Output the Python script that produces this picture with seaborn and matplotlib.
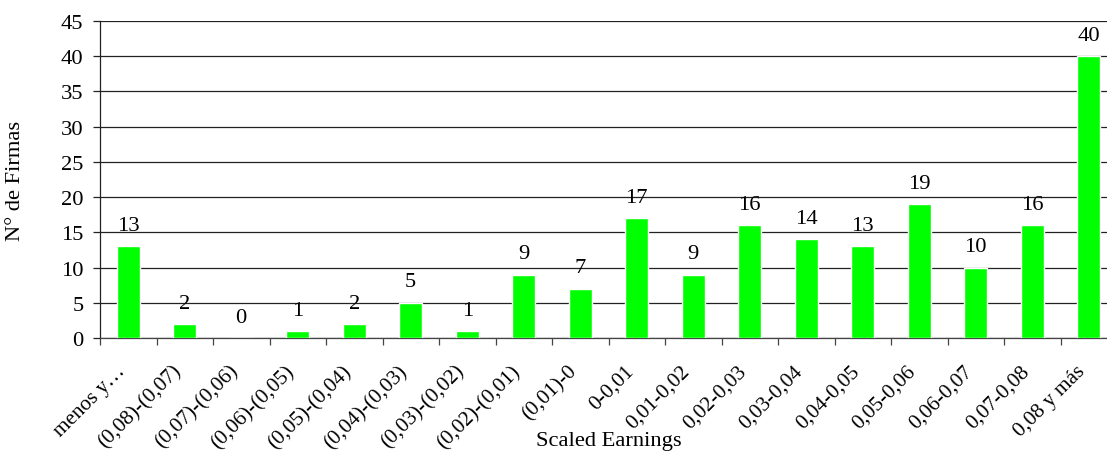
import matplotlib
matplotlib.use("Agg")
import matplotlib.pyplot as plt
import matplotlib.transforms as mtransforms
import seaborn as sns
import pandas as pd
import numpy as np

categories = [
    "menos y…", "(0,08)-(0,07)", "(0,07)-(0,06)", "(0,06)-(0,05)", "(0,05)-(0,04)",
    "(0,04)-(0,03)", "(0,03)-(0,02)", "(0,02)-(0,01)", "(0,01)-0", "0-0,01",
    "0,01-0,02", "0,02-0,03", "0,03-0,04", "0,04-0,05", "0,05-0,06",
    "0,06-0,07", "0,07-0,08", "0,08 y más",
]
firmas = [13, 2, 0, 1, 2, 5, 1, 9, 7, 17, 9, 16, 14, 13, 19, 10, 16, 40]
y_ticks = [0, 5, 10, 15, 20, 25, 30, 35, 40, 45]

sns.set_theme(style="white")
plt.rcParams["font.family"] = ["Liberation Serif", "DejaVu Serif"]

df = pd.DataFrame({"cat": categories, "n": firmas})

FS = 16.2
FS_X = 15.2
W, H = 1107, 452
fig = plt.figure(figsize=(W / 100, H / 100), dpi=100)
# plot area runs past the right edge of the canvas
ax = fig.add_axes([100 / W, (H - 339) / H, 1017 / W, 317 / H])

sns.barplot(data=df, x="cat", y="n", color="#00FF00", width=0.4,
            saturation=1, ax=ax, zorder=3)
ax.set_xlim(-0.5, len(categories) - 0.5)
ax.set_ylim(0, 45)
ax.set_yticks(y_ticks)

# horizontal grid
ax.yaxis.grid(True, color="#222222", linewidth=0.9, zorder=0)
ax.set_axisbelow(True)

for s in ["top", "right"]:
    ax.spines[s].set_visible(False)
ax.spines["left"].set_color("#222222")
ax.spines["bottom"].set_color("#444444")
ax.spines["left"].set_linewidth(0.9)
ax.spines["bottom"].set_linewidth(0.9)

# category boundaries carry the tick marks, centres carry the labels
ax.set_xticks(np.arange(-0.5, len(categories), 1.0), minor=True)
ax.tick_params(axis="x", which="minor", length=5, width=0.9, color="#444444",
               direction="out", bottom=True)
ax.tick_params(axis="x", which="major", length=0, pad=13)
ax.tick_params(axis="y", length=5, width=0.9, color="#222222", direction="out",
               left=True, pad=7, labelsize=FS)
ax.set_xticks(range(len(categories)))
ax.set_xticklabels(categories, rotation=45, ha="right", va="center",
                   rotation_mode="anchor", fontsize=FS_X)
shift = mtransforms.ScaledTranslation(-6 / 100, -12 / 100, fig.dpi_scale_trans)
for lbl in ax.get_xticklabels():
    lbl.set_color("black")
    lbl.set_transform(lbl.get_transform() + shift)
for lbl in ax.get_yticklabels():
    lbl.set_color("black")

# value labels
for i, v in enumerate(firmas):
    ax.annotate(str(v), xy=(i, v), xytext=(0, 15), textcoords="offset points",
                ha="center", va="center", fontsize=FS, color="black")

ax.set_xlabel("Scaled Earnings", fontsize=FS, color="black", va="center")
ax.xaxis.set_label_coords(0.5, -(442 - 339) / 317)
ax.set_ylabel("N° de Firmas", fontsize=FS, color="black", va="center")
ax.yaxis.set_label_coords(-(100 - 16) / 1017, 0.5)

fig.savefig("out.png", dpi=100)
